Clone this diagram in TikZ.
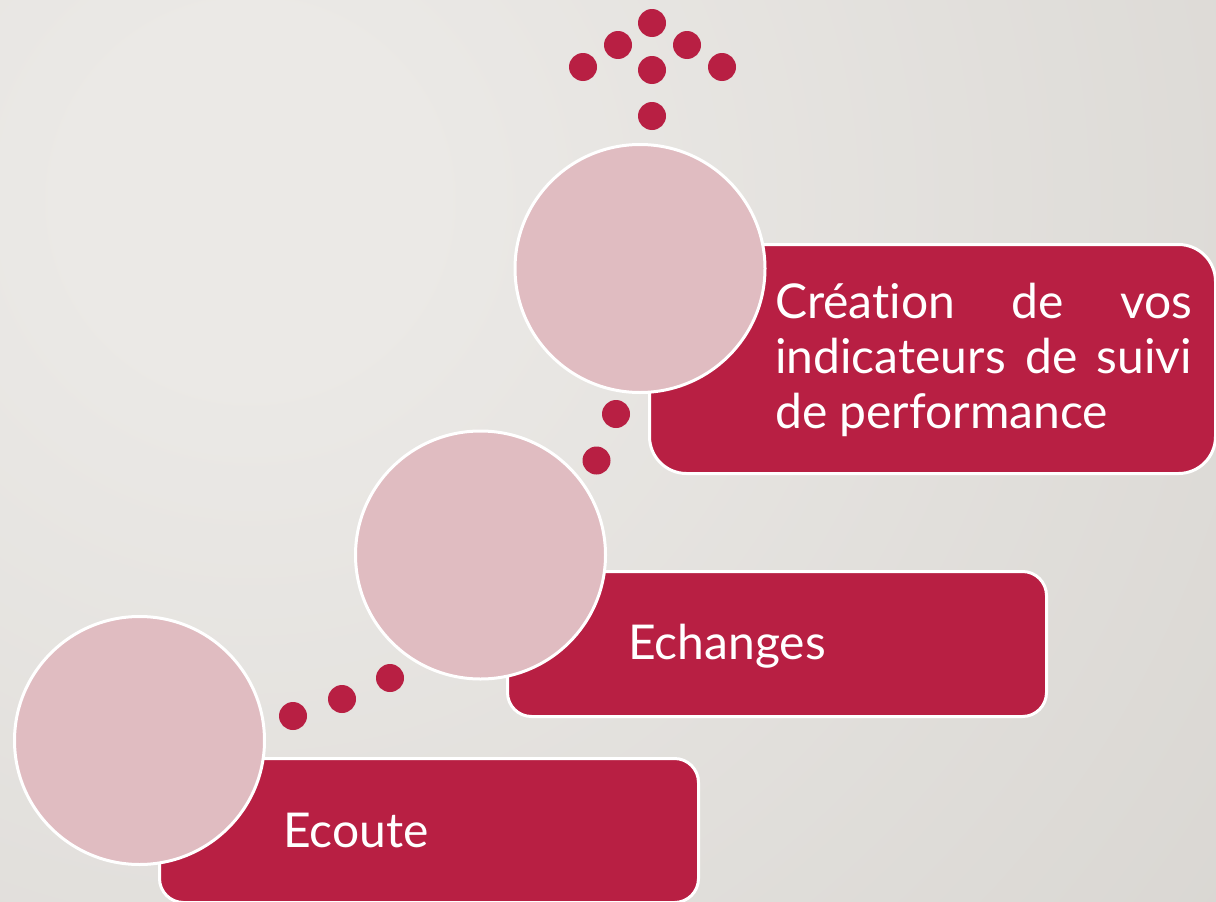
\documentclass[tikz,border=0pt]{standalone}
\usepackage{fontspec}
\setmainfont{Lato}[Ligatures=NoCommon]
\usetikzlibrary{shapes.geometric}
\definecolor{crim}{HTML}{B81F43}
\definecolor{pinkc}{HTML}{E0BCC1}
\definecolor{bgin}{HTML}{EBE9E6}
\definecolor{bgout}{HTML}{CFCCC7}
\pgfdeclareradialshading{bgshade}{\pgfpoint{0bp}{0bp}}{color(0bp)=(bgin); color(4bp)=(bgin); color(42bp)=(bgout); color(50bp)=(bgout)}
\begin{document}
\begin{tikzpicture}[x=1pt,y=-1pt,
  bar/.style={rectangle, draw=white, line width=3pt, fill=crim, anchor=north west, inner sep=0pt},
  bubble/.style={ellipse, draw=white, line width=3pt, fill=pinkc, inner sep=0pt, minimum width=250pt, minimum height=248pt},
  dot/.style={circle, fill=crim, inner sep=0pt, minimum size=28pt},
  txt/.style={text=white, inner sep=0pt, anchor=base west, font=\fontsize{48}{55}\selectfont}]
\useasboundingbox (0,0) rectangle (1216,902);
\begin{scope}
\clip (0,0) rectangle (1216,902);
\shade[shading=bgshade] (-850,-900) rectangle (1350,1300);
\end{scope}
% step 1
\node[bar, rounded corners=24pt, minimum width=539pt, minimum height=144pt] (r1) at (158,757) {};
\node[bubble] (c1) at (139.5,740.5) {};
\node[txt] (t1) at (283,847) {Ecoute};
% step 2
\node[bar, rounded corners=24pt, minimum width=539pt, minimum height=145pt] (r2) at (506,570) {};
\node[bubble] (c2) at (480.5,555) {};
\node[txt] (t2) at (628,659) {Echanges};
% step 3
\node[bar, rounded corners=37pt, minimum width=566pt, minimum height=229pt] (r3) at (648,243) {};
\node[bubble] (c3) at (640,268.5) {};
\node[txt] (t3a) at (775,318) {\hbox to 417pt{Création\hfill de\hfill vos}};
\node[txt] (t3b) at (775,373) {\hbox to 417pt{indicateurs\hfill de\hfill suivi}};
\node[txt] (t3c) at (775,428) {de performance};
% dots between steps
\node[dot] (a1) at (293,716) {};
\node[dot] (a2) at (342,699) {};
\node[dot] (a3) at (390,678) {};
\node[dot] (b1) at (596.5,460.5) {};
\node[dot] (b2) at (616,414) {};
% arrow of dots
\node[dot] (u1) at (652,116) {};
\node[dot] (u2) at (652,70) {};
\node[dot] (u3) at (652,23) {};
\node[dot] (u4) at (618,45) {};
\node[dot] (u5) at (687,45) {};
\node[dot] (u6) at (583,67) {};
\node[dot] (u7) at (722,67) {};
\end{tikzpicture}
\end{document}
